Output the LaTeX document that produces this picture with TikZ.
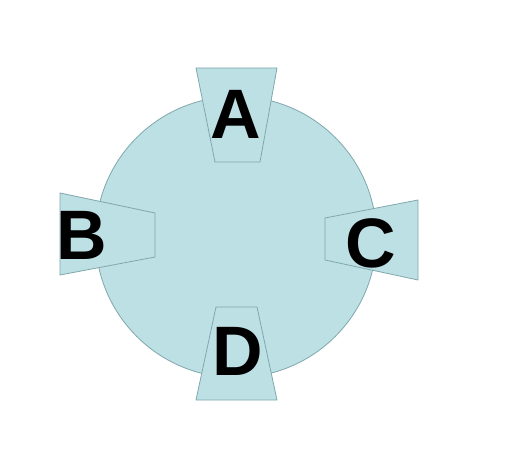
\documentclass[tikz,border=0pt]{standalone}
\usepackage{fontspec}
\setmainfont{Liberation Sans}
\definecolor{fillc}{RGB}{189,224,229}
\definecolor{linec}{RGB}{128,168,172}
\begin{document}
\begin{tikzpicture}[x=1pt,y=-1pt,
  shapefill/.style={fill=fillc,draw=linec,line width=0.8pt},
  lbl/.style={inner sep=0pt,font=\fontsize{70}{70}\selectfont\bfseries,text=black}]
\useasboundingbox (0,0) rectangle (522,449);
\fill[white] (0,0) rectangle (522,449);
\node[shapefill,circle,minimum size=281pt,inner sep=0pt] (circ) at (236,237) {};
\draw[shapefill] (196,68) -- (277,68) -- (260,162) -- (215,162) -- cycle;
\draw[shapefill] (60,193) -- (155,213) -- (155,257) -- (60,275) -- cycle;
\draw[shapefill] (418,200) -- (325,218) -- (325,260) -- (418,280) -- cycle;
\draw[shapefill] (216,307) -- (257,307) -- (277,400) -- (196,400) -- cycle;
\node[lbl] (A) at (236,114) {A};
\node[lbl] (B) at (82,235) {B};
\node[lbl] (C) at (371,243) {C};
\node[lbl] (D) at (238,351) {D};
\end{tikzpicture}
\end{document}
